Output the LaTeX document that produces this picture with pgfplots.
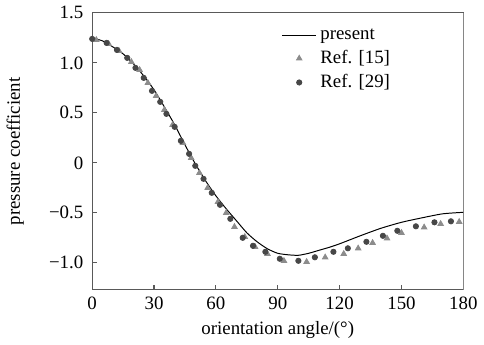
\documentclass[border=0pt]{standalone}
\usepackage{fontspec}
\setmainfont{Liberation Serif}
\usepackage{pgfplots}
\pgfplotsset{compat=1.18}
\definecolor{axgray}{gray}{0.35}
\definecolor{trigray}{gray}{0.55}
\definecolor{cirgray}{gray}{0.28}
\begin{document}
\begin{tikzpicture}
\begin{axis}[
  scale only axis,
  width=189pt, height=141pt,
  xmin=0, xmax=180, ymin=-1.27, ymax=1.5,
  xtick={0,30,60,90,120,150,180},
  ytick={-1,-0.5,0,0.5,1,1.5},
  yticklabels={−1.0,−0.5,0,0.5,1.0,1.5},
  /pgf/number format/assume math mode=true,
  xtick pos=bottom, ytick pos=left,
  tick align=inside,
  major tick length=2.5pt,
  tick style={axgray, line width=0.6pt},
  axis line style={axgray, line width=0.6pt},
  xlabel={orientation angle/(°)},
  ylabel={pressure coefficient},
  tick label style={font=\fontsize{9.6}{11}\selectfont},
  yticklabel style={xshift=-1pt},
  label style={font=\fontsize{9.6}{11}\selectfont},
  xlabel style={yshift=1pt},
  ylabel style={yshift=6pt},
  legend style={draw=none, fill=none, at={(0.505,0.965)}, anchor=north west,
    font=\fontsize{9.6}{11}\selectfont, row sep=0pt, inner sep=1pt},
  legend cell align=left,
]
\addplot[black, line width=0.5pt, smooth, tension=0.4] coordinates {
(0,1.25)(5,1.22)(10,1.16)(15,1.09)(20,0.99)(25,0.87)(30,0.73)(35,0.56)
(40,0.38)(45,0.18)(50,-0.01)(55,-0.18)(60,-0.33)(65,-0.46)(70,-0.58)
(75,-0.70)(80,-0.79)(85,-0.86)(90,-0.905)(95,-0.92)(100,-0.925)(105,-0.905)
(110,-0.875)(115,-0.845)(120,-0.81)(130,-0.73)(140,-0.655)(150,-0.595)
(160,-0.55)(170,-0.51)(180,-0.495)};
\addlegendentry{present}
\addplot[only marks, mark=triangle*, mark size=1.6pt, color=trigray] coordinates {
(2,1.23)(8,1.19)(13,1.12)(19,1.01)(23,0.93)(27,0.80)(31,0.67)(35,0.53)
(39,0.38)(44,0.20)(48,0.05)(52,-0.10)(56,-0.25)(61,-0.39)(65,-0.50)
(69,-0.64)(74,-0.74)(79,-0.84)(85,-0.91)(93,-0.98)(104,-0.99)(113,-0.945)
(122,-0.91)(129,-0.855)(136,-0.80)(143,-0.755)(150,-0.70)(161,-0.645)
(169,-0.61)(178,-0.59)};
\addlegendentry{Ref. [15]}
\addplot[only marks, mark=*, mark size=1.35pt, color=cirgray] coordinates {
(0,1.24)(7,1.20)(12,1.13)(17,1.05)(21,0.95)(25,0.85)(29,0.72)(33,0.61)
(36,0.49)(40,0.36)(43,0.22)(47,0.09)(50,-0.03)(54,-0.16)(58,-0.30)
(62,-0.42)(67,-0.56)(73,-0.75)(78,-0.83)(84,-0.89)(91,-0.96)(100,-0.98)
(108,-0.945)(117,-0.89)(124,-0.855)(133,-0.79)(141,-0.73)(148,-0.68)
(157,-0.635)(166,-0.595)(174,-0.585)};
\addlegendentry{Ref. [29]}
\draw[white!70!gray, line width=0.8pt] (rel axis cs:1,0) -- (rel axis cs:1,1);
\end{axis}
\end{tikzpicture}
\end{document}
